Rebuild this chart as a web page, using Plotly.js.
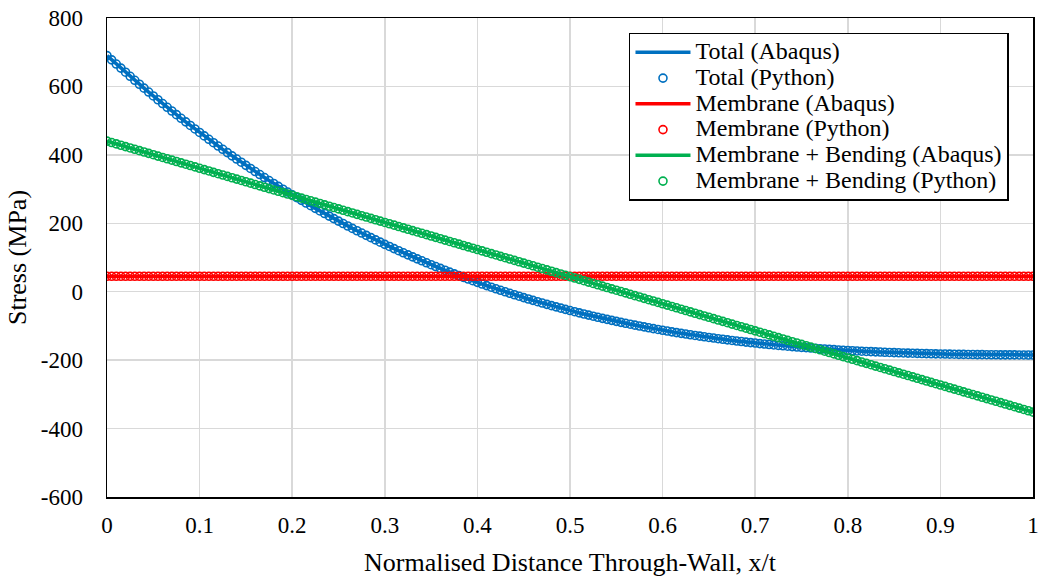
<!DOCTYPE html>
<html>
<head>
<meta charset="utf-8">
<script src="https://cdn.plot.ly/plotly-3.0.1.min.js"></script>
<style>
html,body{margin:0;padding:0;background:#fff;}
#chart{width:1038px;height:578px;}
#chart text{font-family:"Liberation Serif","Times New Roman",serif !important;}
</style>
</head>
<body>
<div id="chart"></div>
<script>
// Normalised distance through-wall, x/t
var xPos = [0,0.005,0.01,0.015,0.02,0.025,0.03,0.035,0.04,0.045,0.05,0.055,0.06,0.065,0.07,0.075,0.08,0.085,0.09,0.095,
0.1,0.105,0.11,0.115,0.12,0.125,0.13,0.135,0.14,0.145,0.15,0.155,0.16,0.165,0.17,0.175,0.18,0.185,0.19,0.195,
0.2,0.205,0.21,0.215,0.22,0.225,0.23,0.235,0.24,0.245,0.25,0.255,0.26,0.265,0.27,0.275,0.28,0.285,0.29,0.295,
0.3,0.305,0.31,0.315,0.32,0.325,0.33,0.335,0.34,0.345,0.35,0.355,0.36,0.365,0.37,0.375,0.38,0.385,0.39,0.395,
0.4,0.405,0.41,0.415,0.42,0.425,0.43,0.435,0.44,0.445,0.45,0.455,0.46,0.465,0.47,0.475,0.48,0.485,0.49,0.495,
0.5,0.505,0.51,0.515,0.52,0.525,0.53,0.535,0.54,0.545,0.55,0.555,0.56,0.565,0.57,0.575,0.58,0.585,0.59,0.595,
0.6,0.605,0.61,0.615,0.62,0.625,0.63,0.635,0.64,0.645,0.65,0.655,0.66,0.665,0.67,0.675,0.68,0.685,0.69,0.695,
0.7,0.705,0.71,0.715,0.72,0.725,0.73,0.735,0.74,0.745,0.75,0.755,0.76,0.765,0.77,0.775,0.78,0.785,0.79,0.795,
0.8,0.805,0.81,0.815,0.82,0.825,0.83,0.835,0.84,0.845,0.85,0.855,0.86,0.865,0.87,0.875,0.88,0.885,0.89,0.895,
0.9,0.905,0.91,0.915,0.92,0.925,0.93,0.935,0.94,0.945,0.95,0.955,0.96,0.965,0.97,0.975,0.98,0.985,0.99,0.995,1];

// Total stress (MPa)
var totalStress = [690.0,677.7,665.5,653.5,641.5,629.7,618.0,606.4,594.9,583.5,572.2,561.1,550.0,539.1,528.2,517.5,506.9,496.4,486.0,475.7,
465.5,455.4,445.5,435.6,425.8,416.2,406.6,397.1,387.8,378.5,369.3,360.3,351.3,342.5,333.7,325.0,316.5,308.0,299.6,291.3,
283.2,275.1,267.1,259.2,251.4,243.6,236.0,228.5,221.0,213.7,206.4,199.2,192.1,185.1,178.2,171.4,164.7,158.0,151.4,144.9,
138.5,132.2,126.0,119.8,113.8,107.8,101.9,96.0,90.3,84.6,79.0,73.5,68.1,62.7,57.4,52.2,47.1,42.0,37.0,32.1,
27.3,22.5,17.8,13.2,8.6,4.2,-0.3,-4.6,-8.9,-13.1,-17.2,-21.3,-25.3,-29.2,-33.1,-36.9,-40.7,-44.3,-48.0,-51.5,
-55.0,-58.4,-61.8,-65.1,-68.4,-71.6,-74.7,-77.8,-80.8,-83.7,-86.6,-89.5,-92.3,-95.0,-97.7,-100.3,-102.9,-105.4,-107.9,-110.3,
-112.7,-115.0,-117.3,-119.5,-121.7,-123.8,-125.8,-127.9,-129.9,-131.8,-133.7,-135.5,-137.3,-139.1,-140.8,-142.4,-144.1,-145.6,-147.2,-148.7,
-150.1,-151.6,-152.9,-154.3,-155.6,-156.9,-158.1,-159.3,-160.4,-161.6,-162.7,-163.7,-164.7,-165.7,-166.7,-167.6,-168.5,-169.4,-170.2,-171.0,
-171.8,-172.5,-173.2,-173.9,-174.6,-175.2,-175.8,-176.4,-177.0,-177.5,-178.0,-178.5,-179.0,-179.4,-179.8,-180.2,-180.6,-181.0,-181.3,-181.6,
-181.9,-182.2,-182.5,-182.7,-183.0,-183.2,-183.4,-183.6,-183.8,-183.9,-184.1,-184.2,-184.3,-184.5,-184.6,-184.7,-184.7,-184.8,-184.9,-185.0,-185.0];

// Membrane stress (MPa)
var membraneStress = [45,45,45,45,45,45,45,45,45,45,45,45,45,45,45,45,45,45,45,45,
45,45,45,45,45,45,45,45,45,45,45,45,45,45,45,45,45,45,45,45,
45,45,45,45,45,45,45,45,45,45,45,45,45,45,45,45,45,45,45,45,
45,45,45,45,45,45,45,45,45,45,45,45,45,45,45,45,45,45,45,45,
45,45,45,45,45,45,45,45,45,45,45,45,45,45,45,45,45,45,45,45,
45,45,45,45,45,45,45,45,45,45,45,45,45,45,45,45,45,45,45,45,
45,45,45,45,45,45,45,45,45,45,45,45,45,45,45,45,45,45,45,45,
45,45,45,45,45,45,45,45,45,45,45,45,45,45,45,45,45,45,45,45,
45,45,45,45,45,45,45,45,45,45,45,45,45,45,45,45,45,45,45,45,
45,45,45,45,45,45,45,45,45,45,45,45,45,45,45,45,45,45,45,45,45];

// Membrane + bending stress (MPa)
var memBendStress = [440,436.04,432.08,428.12,424.16,420.2,416.24,412.28,408.32,404.36,400.4,396.44,392.48,388.52,384.56,380.6,376.64,372.68,368.72,364.76,
360.8,356.84,352.88,348.92,344.96,341,337.04,333.08,329.12,325.16,321.2,317.24,313.28,309.32,305.36,301.4,297.44,293.48,289.52,285.56,
281.6,277.64,273.68,269.72,265.76,261.8,257.84,253.88,249.92,245.96,242,238.04,234.08,230.12,226.16,222.2,218.24,214.28,210.32,206.36,
202.4,198.44,194.48,190.52,186.56,182.6,178.64,174.68,170.72,166.76,162.8,158.84,154.88,150.92,146.96,143,139.04,135.08,131.12,127.16,
123.2,119.24,115.28,111.32,107.36,103.4,99.44,95.48,91.52,87.56,83.6,79.64,75.68,71.72,67.76,63.8,59.84,55.88,51.92,47.96,
44,40.04,36.08,32.12,28.16,24.2,20.24,16.28,12.32,8.36,4.4,0.44,-3.52,-7.48,-11.44,-15.4,-19.36,-23.32,-27.28,-31.24,
-35.2,-39.16,-43.12,-47.08,-51.04,-55,-58.96,-62.92,-66.88,-70.84,-74.8,-78.76,-82.72,-86.68,-90.64,-94.6,-98.56,-102.52,-106.48,-110.44,
-114.4,-118.36,-122.32,-126.28,-130.24,-134.2,-138.16,-142.12,-146.08,-150.04,-154,-157.96,-161.92,-165.88,-169.84,-173.8,-177.76,-181.72,-185.68,-189.64,
-193.6,-197.56,-201.52,-205.48,-209.44,-213.4,-217.36,-221.32,-225.28,-229.24,-233.2,-237.16,-241.12,-245.08,-249.04,-253,-256.96,-260.92,-264.88,-268.84,
-272.8,-276.76,-280.72,-284.68,-288.64,-292.6,-296.56,-300.52,-304.48,-308.44,-312.4,-316.36,-320.32,-324.28,-328.24,-332.2,-336.16,-340.12,-344.08,-348.04,-352];

var seriesNames = ["Total (Abaqus)","Total (Python)","Membrane (Abaqus)","Membrane (Python)","Membrane + Bending (Abaqus)","Membrane + Bending (Python)"];
var xTickVals = [0,0.1,0.2,0.3,0.4,0.5,0.6,0.7,0.8,0.9,1];
var xTickText = ["0","0.1","0.2","0.3","0.4","0.5","0.6","0.7","0.8","0.9","1"];
var yTickVals = [-600,-400,-200,0,200,400,600,800];
var yTickText = ["-600","-400","-200","0","200","400","600","800"];

var cBlue = "#0070C0", cRed = "#FF0000", cGreen = "#00B050";
var FONT = "Liberation Serif";

function legendLabel(name) {
  return '<span style="font-size:24px">' + name + '</span>';
}
function lineTrace(y, name, color) {
  return {x: xPos, y: y, name: legendLabel(name), type: "scatter", mode: "lines",
          line: {color: color, width: 3.5}, hoverinfo: "skip"};
}
function markerTrace(y, name, color) {
  return {x: xPos, y: y, name: legendLabel(name), type: "scatter", mode: "markers",
          marker: {symbol: "circle-open", size: 8, color: color, line: {color: color, width: 1.6}},
          hoverinfo: "skip"};
}

var data = [
  lineTrace(totalStress, seriesNames[0], cBlue),
  markerTrace(totalStress, seriesNames[1], cBlue),
  lineTrace(membraneStress, seriesNames[2], cRed),
  markerTrace(membraneStress, seriesNames[3], cRed),
  lineTrace(memBendStress, seriesNames[4], cGreen),
  markerTrace(memBendStress, seriesNames[5], cGreen)
];

var layout = {
  width: 1038, height: 578,
  margin: {l: 107, r: 5, t: 18, b: 81},
  paper_bgcolor: "#ffffff", plot_bgcolor: "#ffffff",
  font: {family: FONT, size: 23, color: "#000"},
  showlegend: true,
  legend: {
    x: 0.5637, y: 0.9687, xanchor: "left", yanchor: "top",
    bgcolor: "#ffffff", bordercolor: "#000000", borderwidth: 1.5,
    font: {size: 17.5},
    tracegroupgap: 0, itemwidth: 55
  },
  xaxis: {
    range: [0, 1], tickvals: xTickVals, ticktext: xTickText,
    showgrid: true, gridcolor: "#d9d9d9", gridwidth: 1.5,
    zeroline: false, showline: true, linecolor: "#000000", linewidth: 1.5, mirror: true,
    ticks: "outside", ticklen: 7, tickcolor: "rgba(0,0,0,0)",
    ticklabeloverflow: "allow",
    tickfont: {size: 23},
    title: {text: "Normalised Distance Through-Wall, x/t", font: {size: 26}, standoff: 15}
  },
  yaxis: {
    range: [-600, 800], tickvals: yTickVals, ticktext: yTickText,
    showgrid: true, gridcolor: "#d9d9d9", gridwidth: 1.5,
    zeroline: false, showline: true, linecolor: "#000000", linewidth: 1.5, mirror: true,
    ticks: "outside", ticklen: 18, tickcolor: "rgba(0,0,0,0)",
    tickfont: {size: 23},
    title: {text: "Stress (MPa)", font: {size: 26}, standoff: 6}
  }
};

Plotly.newPlot("chart", data, layout, {staticPlot: true, displayModeBar: false});
</script>
</body>
</html>
